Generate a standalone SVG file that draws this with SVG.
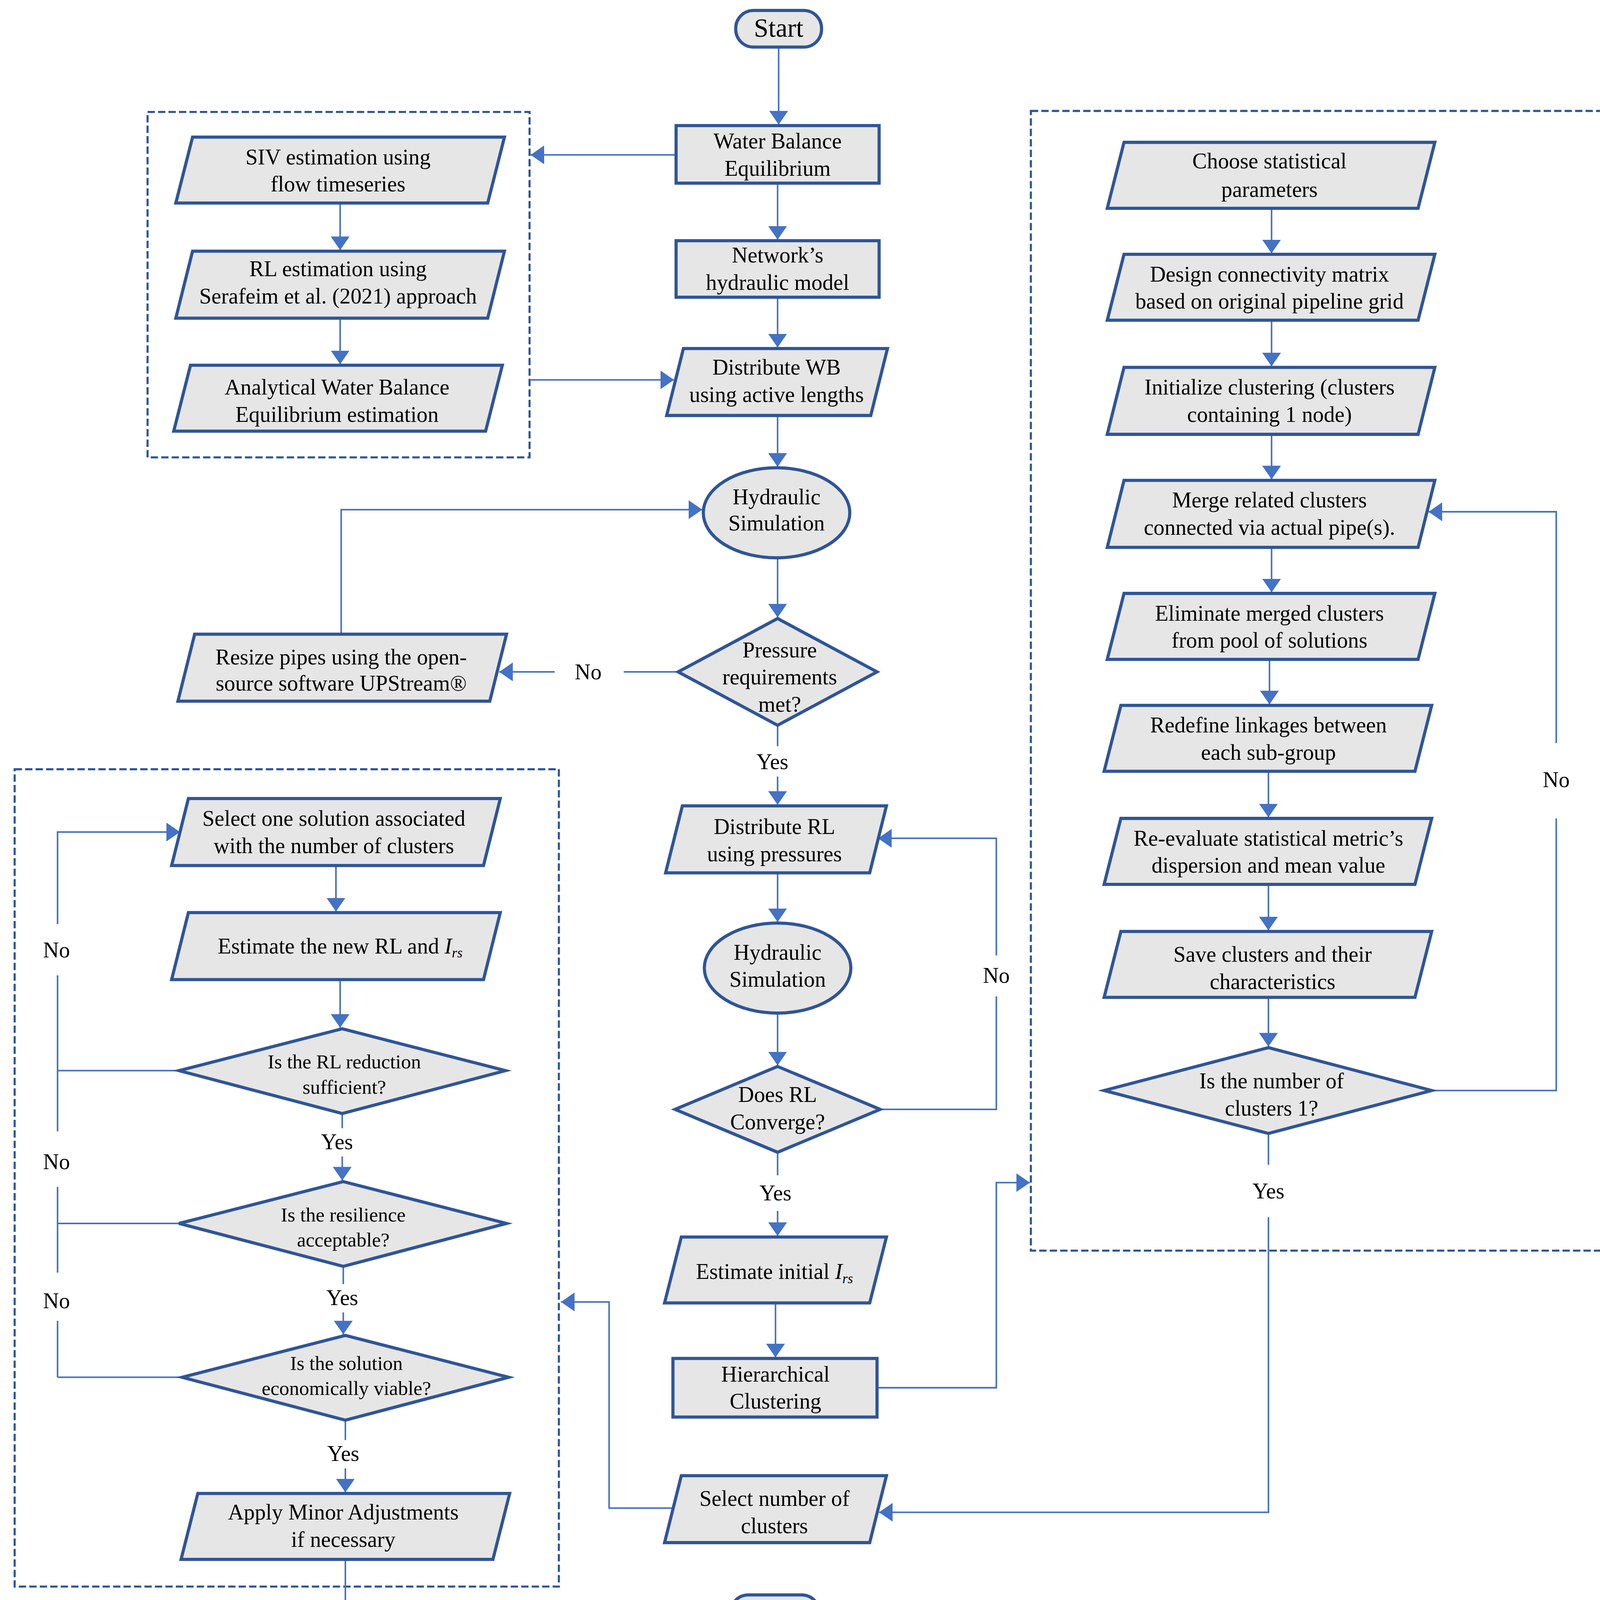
<svg xmlns="http://www.w3.org/2000/svg" width="4142" height="4203" viewBox="0 0 4142 4203">
<style>
.n{fill:#E6E6E6;stroke:#2F5597;stroke-width:3;stroke-linejoin:miter}
.c{fill:none;stroke:#4472C4;stroke-width:1.5}
.d{fill:none;stroke:#2F5597;stroke-width:2;stroke-dasharray:7 3}
text{font-family:"Liberation Serif","Times New Roman",serif;font-size:21px;fill:#000;text-anchor:middle}
.s{font-size:19px}
.i{font-style:italic}
</style>
<defs>
<marker id="ah" markerUnits="userSpaceOnUse" markerWidth="13" markerHeight="18" refX="13" refY="9" orient="auto" viewBox="0 0 13 18">
<path d="M0,0 L13,9 L0,18 z" fill="#4472C4"/>
</marker>
</defs>
<rect width="4142" height="4203" fill="#FFFFFF"/>
<g transform="scale(2.6792)">
<g id="containers">
<rect class="d" x="141" y="107" width="365" height="330"/>
<rect class="d" x="985" y="106" width="548" height="1089"/>
<rect class="d" x="14" y="735" width="520" height="781"/>
</g>
<g id="connectors">
<path class="c" marker-end="url(#ah)" d="M744,45 V119"/>
<path class="c" marker-end="url(#ah)" d="M646,148 H507"/>
<path class="c" marker-end="url(#ah)" d="M743,175 V229"/>
<path class="c" marker-end="url(#ah)" d="M743,284 V332"/>
<path class="c" marker-end="url(#ah)" d="M506,363 H644"/>
<path class="c" marker-end="url(#ah)" d="M325,194 V239"/>
<path class="c" marker-end="url(#ah)" d="M325,304 V348"/>
<path class="c" marker-end="url(#ah)" d="M743,397 V446"/>
<path class="c" marker-end="url(#ah)" d="M743,533 V590"/>
<path class="c" d="M648,642 H596"/>
<path class="c" marker-end="url(#ah)" d="M530,642 H477"/>
<path class="c" marker-end="url(#ah)" d="M326,606 V487 H671"/>
<path class="c" d="M743,693 V713"/>
<path class="c" marker-end="url(#ah)" d="M743,742 V769"/>
<path class="c" marker-end="url(#ah)" d="M743,834 V881"/>
<path class="c" marker-end="url(#ah)" d="M743,968 V1018"/>
<path class="c" d="M841,1060 H952 V952"/>
<path class="c" marker-end="url(#ah)" d="M952,913 V801 H839"/>
<path class="c" d="M743,1101 V1123"/>
<path class="c" marker-end="url(#ah)" d="M743,1157 V1181"/>
<path class="c" marker-end="url(#ah)" d="M741,1245 V1297"/>
<path class="c" marker-end="url(#ah)" d="M838,1326 H952 V1130 H984"/>
<path class="c" marker-end="url(#ah)" d="M1215,199 V242"/>
<path class="c" marker-end="url(#ah)" d="M1215,306 V350"/>
<path class="c" marker-end="url(#ah)" d="M1215,415 V458"/>
<path class="c" marker-end="url(#ah)" d="M1215,523 V566"/>
<path class="c" marker-end="url(#ah)" d="M1213,630 V673"/>
<path class="c" marker-end="url(#ah)" d="M1212,737 V781"/>
<path class="c" marker-end="url(#ah)" d="M1212,845 V889"/>
<path class="c" marker-end="url(#ah)" d="M1212,953 V1000"/>
<path class="c" d="M1368,1042 H1487 V782"/>
<path class="c" marker-end="url(#ah)" d="M1487,710 V489 H1365"/>
<path class="c" d="M1212,1083 V1113"/>
<path class="c" marker-end="url(#ah)" d="M1212,1163 V1445 H840"/>
<path class="c" marker-end="url(#ah)" d="M645,1441 H582 V1244 H536"/>
<path class="c" marker-end="url(#ah)" d="M321,827 V871"/>
<path class="c" marker-end="url(#ah)" d="M325,936 V982"/>
<path class="c" d="M327,1064 V1078"/>
<path class="c" marker-end="url(#ah)" d="M327,1105 V1128"/>
<path class="c" d="M328,1210 V1227"/>
<path class="c" marker-end="url(#ah)" d="M328,1254 V1275"/>
<path class="c" d="M330,1357 V1376"/>
<path class="c" marker-end="url(#ah)" d="M330,1403 V1426"/>
<path class="c" marker-end="url(#ah)" d="M330,1490 V1541 H697"/>
<path class="c" d="M171,1023 H55"/>
<path class="c" d="M171,1169 H55"/>
<path class="c" d="M174,1316 H55"/>
<path class="c" marker-end="url(#ah)" d="M55,883 V795 H172"/>
<path class="c" d="M55,932 V1081"/>
<path class="c" d="M55,1134 V1216"/>
<path class="c" d="M55,1262 V1316"/>
</g>
<g id="labels">
<text x="562" y="649">No</text>
<text x="738" y="735">Yes</text>
<text x="952" y="939">No</text>
<text x="741" y="1147">Yes</text>
<text x="1487" y="752">No</text>
<text x="1212" y="1145">Yes</text>
<text x="54" y="915">No</text>
<text x="54" y="1117">No</text>
<text x="54" y="1250">No</text>
<text x="322" y="1098">Yes</text>
<text x="327" y="1247">Yes</text>
<text x="328" y="1396">Yes</text>
</g>
<g id="start">
<rect class="n" x="703" y="10" width="82" height="35" rx="17"/>
<text x="744" y="35" style="font-size:25px">Start</text>
</g>
<g id="water-balance">
<rect class="n" x="646" y="120" width="194" height="55"/>
<text x="743" y="142">Water Balance</text>
<text x="743" y="168">Equilibrium</text>
</g>
<g id="network-model">
<rect class="n" x="646" y="230" width="194" height="54"/>
<text x="743" y="251">Network’s</text>
<text x="743" y="277">hydraulic model</text>
</g>
<g id="distribute-wb">
<polygon class="n" points="653,333 848,333 832,397 637,397"/>
<text x="742" y="358">Distribute WB</text>
<text x="742" y="384">using active lengths</text>
</g>
<g id="siv">
<polygon class="n" points="184,131 482,131 466,194 168,194"/>
<text x="323" y="157">SIV estimation using</text>
<text x="323" y="183">flow timeseries</text>
</g>
<g id="rl-estimation">
<polygon class="n" points="184,240 482,240 466,304 168,304"/>
<text x="323" y="264">RL estimation using</text>
<text x="323" y="290">Serafeim et al. (2021) approach</text>
</g>
<g id="analytical-wb">
<polygon class="n" points="182,349 480,349 464,412 166,412"/>
<text x="322" y="377">Analytical Water Balance</text>
<text x="322" y="403">Equilibrium estimation</text>
</g>
<g id="hydraulic-sim-1">
<ellipse class="n" cx="742" cy="490" rx="70" ry="43"/>
<text x="742" y="482">Hydraulic</text>
<text x="742" y="507">Simulation</text>
</g>
<g id="pressure-met">
<polygon class="n" points="743,591 838,642 743,693 648,642"/>
<text x="745" y="628">Pressure</text>
<text x="745" y="654">requirements</text>
<text x="745" y="680">met?</text>
</g>
<g id="resize-pipes">
<polygon class="n" points="186,606 484,606 468,670 170,670"/>
<text x="326" y="635">Resize pipes using the open-</text>
<text x="326" y="660">source software UPStream®</text>
</g>
<g id="distribute-rl">
<polygon class="n" points="652,770 847,770 831,834 636,834"/>
<text x="740" y="797">Distribute RL</text>
<text x="740" y="823">using pressures</text>
</g>
<g id="hydraulic-sim-2">
<ellipse class="n" cx="743" cy="925" rx="70" ry="43"/>
<text x="743" y="917">Hydraulic</text>
<text x="743" y="943">Simulation</text>
</g>
<g id="rl-converge">
<polygon class="n" points="743,1019 841,1060 743,1101 645,1060"/>
<text x="743" y="1053">Does RL</text>
<text x="743" y="1079">Converge?</text>
</g>
<g id="estimate-initial">
<polygon class="n" points="651,1182 847,1182 831,1245 635,1245"/>
<text x="740" y="1222">Estimate initial <tspan class="i">I</tspan><tspan class="i" font-size="13" dy="4">rs</tspan></text>
</g>
<g id="hierarchical">
<rect class="n" x="643" y="1298" width="195" height="56"/>
<text x="741" y="1320">Hierarchical</text>
<text x="741" y="1346">Clustering</text>
</g>
<g id="select-number">
<polygon class="n" points="651,1410 847,1410 831,1474 635,1474"/>
<text x="740" y="1439">Select number of</text>
<text x="740" y="1465">clusters</text>
</g>
<g id="end">
<rect class="n" x="698" y="1524" width="85" height="35" rx="17"/>
<text x="741" y="1549" style="font-size:23px">End</text>
</g>
<g id="choose-params">
<polygon class="n" points="1074,136 1371,136 1355,199 1058,199"/>
<text x="1213" y="161">Choose statistical</text>
<text x="1213" y="188">parameters</text>
</g>
<g id="connectivity-matrix">
<polygon class="n" points="1074,243 1371,243 1355,306 1058,306"/>
<text x="1213" y="269">Design connectivity matrix</text>
<text x="1213" y="295">based on original pipeline grid</text>
</g>
<g id="init-clustering">
<polygon class="n" points="1074,351 1371,351 1355,415 1058,415"/>
<text x="1213" y="377">Initialize clustering (clusters</text>
<text x="1213" y="403">containing 1 node)</text>
</g>
<g id="merge-clusters">
<polygon class="n" points="1074,459 1371,459 1355,523 1058,523"/>
<text x="1213" y="485">Merge related clusters</text>
<text x="1213" y="511">connected via actual pipe(s).</text>
</g>
<g id="eliminate-merged">
<polygon class="n" points="1074,567 1371,567 1355,630 1058,630"/>
<text x="1213" y="593">Eliminate merged clusters</text>
<text x="1213" y="619">from pool of solutions</text>
</g>
<g id="redefine-linkages">
<polygon class="n" points="1071,674 1368,674 1352,737 1055,737"/>
<text x="1212" y="700">Redefine linkages between</text>
<text x="1212" y="726">each sub-group</text>
</g>
<g id="re-evaluate">
<polygon class="n" points="1071,782 1368,782 1352,845 1055,845"/>
<text x="1212" y="808">Re-evaluate statistical metric’s</text>
<text x="1212" y="834">dispersion and mean value</text>
</g>
<g id="save-clusters">
<polygon class="n" points="1071,890 1368,890 1352,953 1055,953"/>
<text x="1216" y="919">Save clusters and their</text>
<text x="1216" y="945">characteristics</text>
</g>
<g id="clusters-one">
<polygon class="n" points="1212,1001 1368,1042 1212,1083 1055,1042"/>
<text x="1215" y="1040">Is the number of</text>
<text x="1215" y="1066">clusters 1?</text>
</g>
<g id="select-solution">
<polygon class="n" points="180,763 478,763 462,827 164,827"/>
<text x="319" y="789">Select one solution associated</text>
<text x="319" y="815">with the number of clusters</text>
</g>
<g id="estimate-new">
<polygon class="n" points="180,872 478,872 462,936 164,936"/>
<text x="325" y="911">Estimate the new RL and <tspan class="i">I</tspan><tspan class="i" font-size="13" dy="4">rs</tspan></text>
</g>
<g id="rl-sufficient">
<polygon class="n" points="327,983 483,1023 327,1064 171,1023"/>
<text class="s" x="329" y="1021">Is the RL reduction</text>
<text class="s" x="329" y="1045">sufficient?</text>
</g>
<g id="resilience">
<polygon class="n" points="328,1129 484,1169 328,1210 171,1169"/>
<text class="s" x="328" y="1167">Is the resilience</text>
<text class="s" x="328" y="1191">acceptable?</text>
</g>
<g id="economic">
<polygon class="n" points="330,1276 486,1316 330,1357 174,1316"/>
<text class="s" x="331" y="1309">Is the solution</text>
<text class="s" x="331" y="1333">economically viable?</text>
</g>
<g id="minor-adjust">
<polygon class="n" points="189,1427 487,1427 471,1490 173,1490"/>
<text x="328" y="1452">Apply Minor Adjustments</text>
<text x="328" y="1478">if necessary</text>
</g>
</g>
</svg>
